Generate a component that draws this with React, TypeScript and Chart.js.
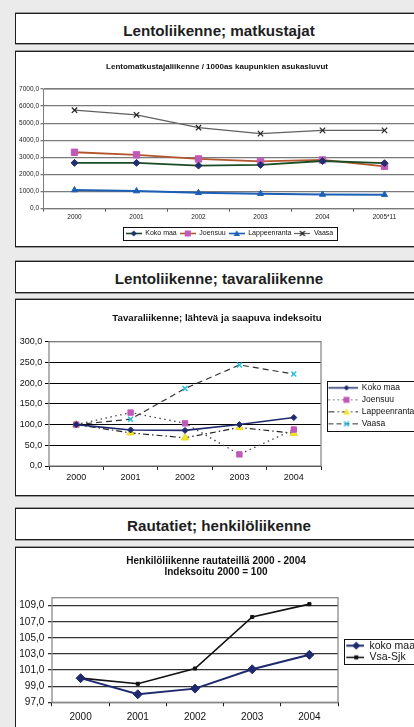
import React, { useEffect, useRef } from 'react';
import { Chart, registerables } from 'chart.js';

Chart.register(...registerables);

const FONT = '"Liberation Sans", Arial, Helvetica, sans-serif';

// ---- Chart 1: Lentomatkustajaliikenne ----
const passengerYears = ['2000', '2001', '2002', '2003', '2004', '2005*11'];
const passengerKokoMaa = [2680, 2680, 2520, 2560, 2790, 2660];
const passengerJoensuu = [3300, 3150, 2910, 2770, 2850, 2480];
const passengerLappeenranta = [1090, 1030, 930, 880, 830, 820];
const passengerVaasa = [5760, 5490, 4740, 4390, 4580, 4580];
const passengerTicks = [0, 1000, 2000, 3000, 4000, 5000, 6000, 7000];

// ---- Chart 2: Tavaraliikenne ----
const cargoYears = ['2000', '2001', '2002', '2003', '2004'];
const cargoKokoMaa = [100, 87, 86, 100, 117];
const cargoJoensuu = [100, 129, 103, 28, 88];
const cargoLappeenranta = [100, 80, 68, 93, 79];
const cargoVaasa = [100, 113, 187, 244, 222];
const cargoTicks = [0, 50, 100, 150, 200, 250, 300];

// ---- Chart 3: Henkilöliikenne rautateillä ----
const railYears = ['2000', '2001', '2002', '2003', '2004'];
const railKokoMaa = [100.0, 98.0, 98.7, 101.1, 102.9];
const railVsaSjk = [100.0, 99.3, 101.2, 107.6, 109.2];
const railTicks = [97, 99, 101, 103, 105, 107, 109];

const fmt = (v: number | string) => Number(v).toFixed(1).replace('.', ',');

type Mk = 'diamond' | 'square' | 'triangle' | 'x' | 'dot';

function drawMarker(ctx: CanvasRenderingContext2D, shape: Mk, x: number, y: number, r: number, fill: string, stroke: string, sw: number) {
  ctx.save();
  ctx.fillStyle = fill;
  ctx.strokeStyle = stroke;
  ctx.lineWidth = sw;
  ctx.beginPath();
  if (shape === 'diamond') {
    ctx.moveTo(x, y - r); ctx.lineTo(x + r, y); ctx.lineTo(x, y + r); ctx.lineTo(x - r, y); ctx.closePath();
    ctx.fill();
  } else if (shape === 'square') {
    ctx.rect(x - r, y - r, 2 * r, 2 * r); ctx.fill();
  } else if (shape === 'triangle') {
    ctx.moveTo(x, y - r); ctx.lineTo(x + r, y + r * 0.8); ctx.lineTo(x - r, y + r * 0.8); ctx.closePath(); ctx.fill();
  } else if (shape === 'x') {
    ctx.moveTo(x - r, y - r); ctx.lineTo(x + r, y + r); ctx.moveTo(x + r, y - r); ctx.lineTo(x - r, y + r); ctx.stroke();
  } else {
    ctx.rect(x - r, y - r, 2 * r, 2 * r); ctx.fill();
  }
  ctx.restore();
}

function makeSymbol(w: number, h: number, x0: number, mx: number, lineColor: string, lineWidth: number, dash: number[], shape: Mk, r: number, fill: string, stroke: string, sw: number) {
  const c = document.createElement('canvas');
  c.width = w; c.height = h;
  const ctx = c.getContext('2d')!;
  const cy = h / 2;
  ctx.strokeStyle = lineColor;
  ctx.lineWidth = lineWidth;
  ctx.setLineDash(dash);
  ctx.beginPath(); ctx.moveTo(x0, cy); ctx.lineTo(w, cy); ctx.stroke();
  ctx.setLineDash([]);
  drawMarker(ctx, shape, mx, cy, r, fill, stroke, sw);
  return c;
}

const plotBorder = {
  id: 'plotBorder',
  beforeDatasetsDraw(chart: any, _a: any, opts: any) {
    if (!opts || !opts.color) return;
    const { left, top, right, bottom } = chart.chartArea;
    const ctx = chart.ctx;
    ctx.save();
    ctx.strokeStyle = opts.color;
    ctx.lineWidth = opts.width || 1;
    ctx.strokeRect(left, top, right - left, bottom - top);
    ctx.restore();
  },
};

const legendBox = {
  id: 'legendBox',
  afterDraw(chart: any, _a: any, opts: any) {
    const lg = chart.legend;
    if (!lg || !lg.legendHitBoxes || !lg.legendHitBoxes.length || !opts || !opts.show) return;
    let l = Infinity, t = Infinity, r = -Infinity, b = -Infinity;
    lg.legendHitBoxes.forEach((h: any) => {
      l = Math.min(l, h.left); t = Math.min(t, h.top);
      r = Math.max(r, h.left + h.width); b = Math.max(b, h.top + h.height);
    });
    const L = l - opts.padL;
    const T = t - opts.padT;
    const R = opts.toEdge ? chart.width + 20 : r + opts.padR;
    const B = b + opts.padB;
    const ctx = chart.ctx;
    ctx.save();
    ctx.strokeStyle = opts.color || '#000';
    ctx.lineWidth = opts.width || 1;
    ctx.strokeRect(Math.round(L) + 0.5, Math.round(T) + 0.5, Math.round(R - L), Math.round(B - T));
    ctx.restore();
  },
};

function symbolLabels(symbols: HTMLCanvasElement[]) {
  return (chart: any) =>
    chart.data.datasets.map((ds: any, i: number) => ({
      text: ds.label,
      pointStyle: symbols[i],
      datasetIndex: i,
      hidden: false,
      lineWidth: 0,
      fillStyle: 'transparent',
      strokeStyle: 'transparent',
      fontColor: '#111',
    }));
}

export default function App() {
  const c1 = useRef<HTMLCanvasElement>(null);
  const c2 = useRef<HTMLCanvasElement>(null);
  const c3 = useRef<HTMLCanvasElement>(null);

  useEffect(() => {
    const charts: Chart[] = [];

    // ---------- Chart 1 ----------
    const s1 = [
      makeSymbol(16, 9, 0, 8, '#1b4d25', 1.6, [], 'diamond', 3, '#232e6e', '#232e6e', 1),
      makeSymbol(16, 9, 0, 8, '#b4552e', 1.6, [], 'square', 3, '#c05ab8', '#c05ab8', 1),
      makeSymbol(16, 9, 0, 8, '#1c5fb5', 1.6, [], 'triangle', 3.2, '#1c5fb5', '#1c5fb5', 1),
      makeSymbol(16, 9, 0, 8, '#606060', 1.2, [], 'x', 2.5, '#222', '#222', 1.2),
    ];
    charts.push(
      new Chart(c1.current!, {
        type: 'line',
        data: {
          labels: passengerYears,
          datasets: [
            { label: 'Koko maa', data: passengerKokoMaa, borderColor: '#1b4d25', borderWidth: 1.8, pointStyle: 'rectRot', pointRadius: 3.5, pointBackgroundColor: '#232e6e', pointBorderColor: '#232e6e', pointBorderWidth: 1 },
            { label: 'Joensuu', data: passengerJoensuu, borderColor: '#b4552e', borderWidth: 1.8, pointStyle: 'rect', pointRadius: 4.5, pointBackgroundColor: '#c05ab8', pointBorderColor: '#c05ab8', pointBorderWidth: 1 },
            { label: 'Lappeenranta', data: passengerLappeenranta, borderColor: '#1c5fb5', borderWidth: 2, pointStyle: 'triangle', pointRadius: 3.5, pointBackgroundColor: '#1c5fb5', pointBorderColor: '#1c5fb5', pointBorderWidth: 1 },
            { label: 'Vaasa', data: passengerVaasa, borderColor: '#606060', borderWidth: 1.3, pointStyle: 'crossRot', pointRadius: 3.8, pointBackgroundColor: '#222', pointBorderColor: '#222', pointBorderWidth: 1.2 },
          ],
        } as any,
        options: {
          animation: false,
          responsive: false,
          devicePixelRatio: 1,
          elements: { line: { tension: 0 } },
          layout: { padding: { left: 0, right: 3, top: 0, bottom: 0 } },
          plugins: {
            title: {
              display: true,
              text: 'Lentomatkustajaliikenne / 1000as kaupunkien asukasluvut',
              font: { family: FONT, size: 8, weight: 'bold', lineHeight: 1.2 },
              color: '#111',
              padding: { top: 10, bottom: 17.4 },
            },
            legend: {
              position: 'bottom',
              fullSize: false,
              labels: {
                usePointStyle: true,
                pointStyleWidth: 16,
                padding: 3,
                color: '#111',
                font: { family: FONT, size: 7 },
                generateLabels: symbolLabels(s1),
              },
            },
            tooltip: { enabled: false },
            plotBorder: { color: '#7a7a7a', width: 1 },
            legendBox: { show: true, padL: 3, padR: 3, padT: 3, padB: 3, color: '#111', width: 1 },
          } as any,
          scales: {
            x: {
              offset: true,
              grid: { offset: true, drawOnChartArea: false, drawTicks: true, tickLength: 3, color: '#555', lineWidth: 1 },
              border: { display: true, color: '#7a7a7a', width: 1 },
              ticks: { font: { family: FONT, size: 6.5 }, color: '#222', padding: 2, maxRotation: 0, autoSkip: false },
              afterFit: (s: any) => { s.height = 18.3; },
            },
            y: {
              min: 0,
              max: 7000,
              afterBuildTicks: (s: any) => { s.ticks = passengerTicks.map((value) => ({ value })); },
              grid: { color: '#7a7a7a', lineWidth: 1.3, tickLength: 3 },
              border: { display: true, color: '#7a7a7a', width: 1 },
              ticks: { font: { family: FONT, size: 6.5 }, color: '#222', padding: 1.5, callback: (v: any) => fmt(v) },
              afterFit: (s: any) => { s.width = 27.5; },
            },
          } as any,
        },
        plugins: [plotBorder, legendBox] as any,
      })
    );

    // ---------- Chart 2 ----------
    const s2 = [
      makeSymbol(33, 9, 4, 22, '#1f2a6e', 1.5, [], 'diamond', 2.8, '#1f2a6e', '#1f2a6e', 1),
      makeSymbol(33, 9, 4, 22, '#555', 1.2, [1.5, 3], 'square', 3, '#c05ab8', '#c05ab8', 1),
      makeSymbol(33, 9, 4, 22, '#222', 1.2, [6, 3, 1.5, 3], 'triangle', 3.5, '#f2e62a', '#f2e62a', 1),
      makeSymbol(33, 9, 4, 22, '#333', 1.2, [5, 3], 'x', 2.6, '#27bfe0', '#27bfe0', 1.4),
    ];
    charts.push(
      new Chart(c2.current!, {
        type: 'line',
        data: {
          labels: cargoYears,
          datasets: [
            { label: 'Koko maa', data: cargoKokoMaa, borderColor: '#1f2a6e', borderWidth: 1.6, pointStyle: 'rectRot', pointRadius: 3, pointBackgroundColor: '#1f2a6e', pointBorderColor: '#1f2a6e', pointBorderWidth: 1 },
            { label: 'Joensuu', data: cargoJoensuu, borderColor: '#444', borderWidth: 1.3, borderDash: [1.5, 3.5], pointStyle: 'rect', pointRadius: 3.8, pointBackgroundColor: '#c05ab8', pointBorderColor: '#c05ab8', pointBorderWidth: 1 },
            { label: 'Lappeenranta', data: cargoLappeenranta, borderColor: '#222', borderWidth: 1.2, borderDash: [6, 3, 1.5, 3], pointStyle: 'triangle', pointRadius: 4.2, pointBackgroundColor: '#f2e62a', pointBorderColor: '#e6d820', pointBorderWidth: 1 },
            { label: 'Vaasa', data: cargoVaasa, borderColor: '#333', borderWidth: 1.2, borderDash: [6, 4], pointStyle: 'crossRot', pointRadius: 3.5, pointBackgroundColor: '#27bfe0', pointBorderColor: '#27bfe0', pointBorderWidth: 1.5 },
          ],
        } as any,
        options: {
          animation: false,
          responsive: false,
          devicePixelRatio: 1,
          elements: { line: { tension: 0 } },
          layout: { padding: { left: 0, right: 0, top: 0, bottom: 9 } },
          plugins: {
            title: {
              display: true,
              text: 'Tavaraliikenne; lähtevä ja saapuva indeksoitu',
              font: { family: FONT, size: 9.7, weight: 'bold', lineHeight: 1.2 },
              color: '#111',
              padding: { top: 12.2, bottom: 17.9 },
            },
            legend: {
              position: 'right',
              fullSize: false,
              maxWidth: 97,
              title: { display: true, text: '', padding: 0, font: { family: FONT, size: 4, lineHeight: 1 } },
              labels: {
                usePointStyle: true,
                pointStyleWidth: 33,
                padding: 3.5,
                color: '#111',
                font: { family: FONT, size: 8.5 },
                generateLabels: symbolLabels(s2),
              },
            },
            tooltip: { enabled: false },
            plotBorder: { color: '#8a8a8a', width: 1.3 },
            legendBox: { show: true, padL: -2, padR: 3, padT: 3, padB: 2.5, color: '#111', width: 1, toEdge: true },
          } as any,
          scales: {
            x: {
              offset: true,
              grid: { offset: true, drawOnChartArea: false, drawTicks: true, tickLength: 4, color: '#222', lineWidth: 1 },
              border: { display: false },
              ticks: { font: { family: FONT, size: 9 }, color: '#111', padding: 2.3, maxRotation: 0, autoSkip: false },
              afterFit: (s: any) => { s.height = 20; },
            },
            y: {
              min: 0,
              max: 300,
              afterBuildTicks: (s: any) => { s.ticks = cargoTicks.map((value) => ({ value })); },
              grid: { color: '#000', lineWidth: 1, tickLength: 4 },
              border: { display: false },
              ticks: { font: { family: FONT, size: 9 }, color: '#111', padding: 2.7, callback: (v: any) => fmt(v) },
              afterFit: (s: any) => { s.width = 33; },
            },
          } as any,
        },
        plugins: [plotBorder, legendBox] as any,
      })
    );

    // ---------- Chart 3 ----------
    const s3 = [
      makeSymbol(25, 11, 7, 17, '#1f2a6e', 2, [], 'diamond', 4, '#1f2a6e', '#1f2a6e', 1),
      makeSymbol(25, 11, 7, 17, '#111', 1.5, [], 'square', 2, '#111', '#111', 1),
    ];
    charts.push(
      new Chart(c3.current!, {
        type: 'line',
        data: {
          labels: railYears,
          datasets: [
            { label: 'koko maa', data: railKokoMaa, borderColor: '#1f2a6e', borderWidth: 2, pointStyle: 'rectRot', pointRadius: 4.5, pointBackgroundColor: '#1f2a6e', pointBorderColor: '#1f2a6e', pointBorderWidth: 1 },
            { label: 'Vsa-Sjk', data: railVsaSjk, borderColor: '#111', borderWidth: 1.6, pointStyle: 'rect', pointRadius: 2.2, pointBackgroundColor: '#111', pointBorderColor: '#111', pointBorderWidth: 1 },
          ],
        } as any,
        options: {
          animation: false,
          responsive: false,
          devicePixelRatio: 1,
          elements: { line: { tension: 0 } },
          layout: { padding: { left: 0, right: 0, top: 0, bottom: 10.7 } },
          plugins: {
            title: {
              display: true,
              text: ['Henkilöliikenne rautateillä 2000 - 2004', 'Indeksoitu 2000 = 100'],
              font: { family: FONT, size: 10, weight: 'bold', lineHeight: 1.1 },
              color: '#111',
              padding: { top: 8, bottom: 19.7 },
            },
            legend: {
              position: 'right',
              fullSize: false,
              maxWidth: 78,
              title: { display: true, text: '', padding: 0, font: { family: FONT, size: 3, lineHeight: 1 } },
              labels: {
                usePointStyle: true,
                pointStyleWidth: 25,
                padding: 1.2,
                color: '#111',
                font: { family: FONT, size: 10.5 },
                generateLabels: symbolLabels(s3),
              },
            },
            tooltip: { enabled: false },
            plotBorder: { color: '#8a8a8a', width: 1.3 },
            legendBox: { show: true, padL: -5, padR: 3, padT: 1.5, padB: 1.5, color: '#111', width: 1, toEdge: true },
          } as any,
          scales: {
            x: {
              offset: true,
              grid: { offset: true, drawOnChartArea: false, drawTicks: true, tickLength: 4, color: '#222', lineWidth: 1 },
              border: { display: false },
              ticks: { font: { family: FONT, size: 10 }, color: '#111', padding: 5.2, maxRotation: 0, autoSkip: false },
              afterFit: (s: any) => { s.height = 20; },
            },
            y: {
              min: 97,
              max: 110,
              afterBuildTicks: (s: any) => { s.ticks = railTicks.map((value) => ({ value })); },
              grid: { color: '#333', lineWidth: 1.3, tickLength: 4 },
              border: { display: false },
              ticks: { font: { family: FONT, size: 10 }, color: '#111', padding: 3.7, callback: (v: any) => fmt(v) },
              afterFit: (s: any) => { s.width = 36; },
            },
          } as any,
        },
        plugins: [plotBorder, legendBox] as any,
      })
    );

    return () => charts.forEach((c) => c.destroy());
  }, []);

  const box = (top: number, height: number): React.CSSProperties => ({
    position: 'absolute',
    left: 15,
    top,
    width: 408,
    height,
    boxSizing: 'border-box',
    background: '#fff',
    border: '1px solid #1e1e1e',
    boxShadow: '0 -1px 0 #9a9a9a, 0 1px 0 #9a9a9a',
  });

  const titleBox = (top: number, height: number, text: string) => (
    <div
      style={{
        ...box(top, height),
        display: 'flex',
        alignItems: 'center',
        justifyContent: 'center',
        paddingTop: 3,
        fontFamily: FONT,
        fontWeight: 'bold',
        fontSize: 15.2,
        color: '#1e1e1e',
      }}
    >
      {text}
    </div>
  );

  return (
    <div
      style={{
        position: 'fixed',
        left: 0,
        top: 0,
        width: 414,
        height: 727,
        background: '#ebebeb',
        overflow: 'hidden',
        fontFamily: FONT,
      }}
    >
      {titleBox(13, 31, 'Lentoliikenne; matkustajat')}
      <div style={box(51, 196)} />
      <canvas ref={c1} width={405} height={195} style={{ position: 'absolute', left: 16, top: 52 }} />

      {titleBox(261, 32, 'Lentoliikenne; tavaraliikenne')}
      <div style={box(299, 197)} />
      <canvas ref={c2} width={402} height={195} style={{ position: 'absolute', left: 16, top: 300 }} />

      {titleBox(508, 32, 'Rautatiet; henkilöliikenne')}
      <div style={box(547, 200)} />
      <canvas ref={c3} width={400} height={185} style={{ position: 'absolute', left: 16, top: 548 }} />
    </div>
  );
}
